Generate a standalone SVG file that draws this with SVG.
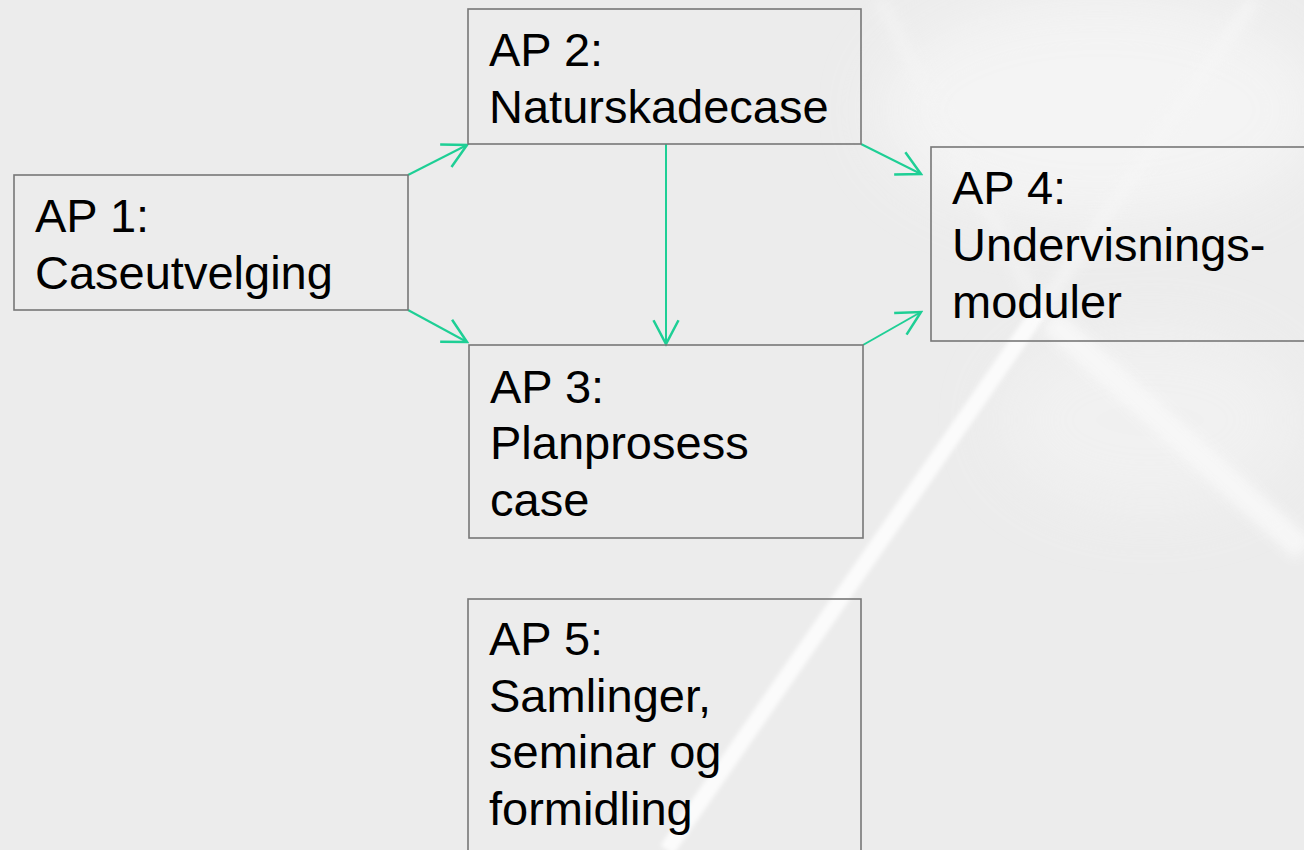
<svg xmlns="http://www.w3.org/2000/svg" width="1304" height="850" viewBox="0 0 1304 850">
  <style>
    .box { fill: none; stroke: #777777; stroke-width: 1.6; }
    .lbl { font-family: "Liberation Sans", Arial, sans-serif; font-size: 47px; fill: #000000; }
    .conn { stroke: #1ecf95; stroke-width: 2; fill: none; marker-end: url(#arr); }
  </style>
  <defs>
    <marker id="arr" markerUnits="userSpaceOnUse" markerWidth="30" markerHeight="30" refX="0" refY="0" viewBox="-22 -12 24 24" orient="auto">
      <path d="M-19,-10 L0,0 L-19,10" fill="none" stroke="#1ecf95" stroke-width="2"/>
    </marker>
    <filter id="blur6" x="-20%" y="-20%" width="140%" height="140%">
      <feGaussianBlur stdDeviation="6"/>
    </filter>
    <filter id="blur2" x="-20%" y="-20%" width="140%" height="140%">
      <feGaussianBlur stdDeviation="2"/>
    </filter>
    <filter id="blur30" x="-50%" y="-50%" width="200%" height="200%">
      <feGaussianBlur stdDeviation="30"/>
    </filter>
  </defs>

  <!-- background -->
  <g id="background">
    <rect x="0" y="0" width="1304" height="850" fill="#ececec"/>
    <ellipse cx="1100" cy="110" rx="220" ry="110" fill="#f6f6f6" opacity="0.8" filter="url(#blur30)"/>
    <ellipse cx="1150" cy="420" rx="150" ry="90" fill="#f3f3f3" opacity="0.7" filter="url(#blur30)"/>
    <line x1="667" y1="850" x2="1040" y2="310" stroke="#fbfbfb" stroke-width="16" filter="url(#blur2)"/>
    <line x1="1040" y1="310" x2="1254" y2="0" stroke="#f6f6f6" stroke-width="14" opacity="0.7" filter="url(#blur6)"/>
    <line x1="1050" y1="320" x2="1304" y2="550" stroke="#f8f8f8" stroke-width="26" opacity="0.9" filter="url(#blur6)"/>
    <line x1="880" y1="0" x2="1040" y2="310" stroke="#f4f4f4" stroke-width="14" opacity="0.6" filter="url(#blur6)"/>
  </g>

  <!-- connectors -->
  <g id="connectors">
    <line class="conn" x1="408" y1="175" x2="467" y2="145"/>
    <line class="conn" x1="408" y1="310" x2="467" y2="342"/>
    <line class="conn" x1="666" y1="144" x2="666" y2="344"/>
    <line class="conn" x1="861" y1="144" x2="921" y2="174"/>
    <line class="conn" x1="863" y1="345" x2="921" y2="312"/>
  </g>

  <g id="ap1">
    <rect class="box" x="14" y="175" width="394" height="135"/>
    <text class="lbl" x="35" y="232">AP 1:</text>
    <text class="lbl" x="35" y="289">Caseutvelging</text>
  </g>

  <g id="ap2">
    <rect class="box" x="468" y="9" width="393" height="135"/>
    <text class="lbl" x="489" y="66">AP 2:</text>
    <text class="lbl" x="489" y="123">Naturskadecase</text>
  </g>

  <g id="ap3">
    <rect class="box" x="469" y="345" width="394" height="193"/>
    <text class="lbl" x="490" y="403">AP 3:</text>
    <text class="lbl" x="490" y="459">Planprosess</text>
    <text class="lbl" x="490" y="516">case</text>
  </g>

  <g id="ap4">
    <rect class="box" x="931" y="147" width="380" height="194"/>
    <text class="lbl" x="952" y="204">AP 4:</text>
    <text class="lbl" x="952" y="261">Undervisnings-</text>
    <text class="lbl" x="952" y="318">moduler</text>
  </g>

  <g id="ap5">
    <rect class="box" x="468" y="599" width="393" height="260"/>
    <text class="lbl" x="489" y="655">AP 5:</text>
    <text class="lbl" x="489" y="712">Samlinger,</text>
    <text class="lbl" x="489" y="768">seminar og</text>
    <text class="lbl" x="489" y="825">formidling</text>
  </g>
</svg>
